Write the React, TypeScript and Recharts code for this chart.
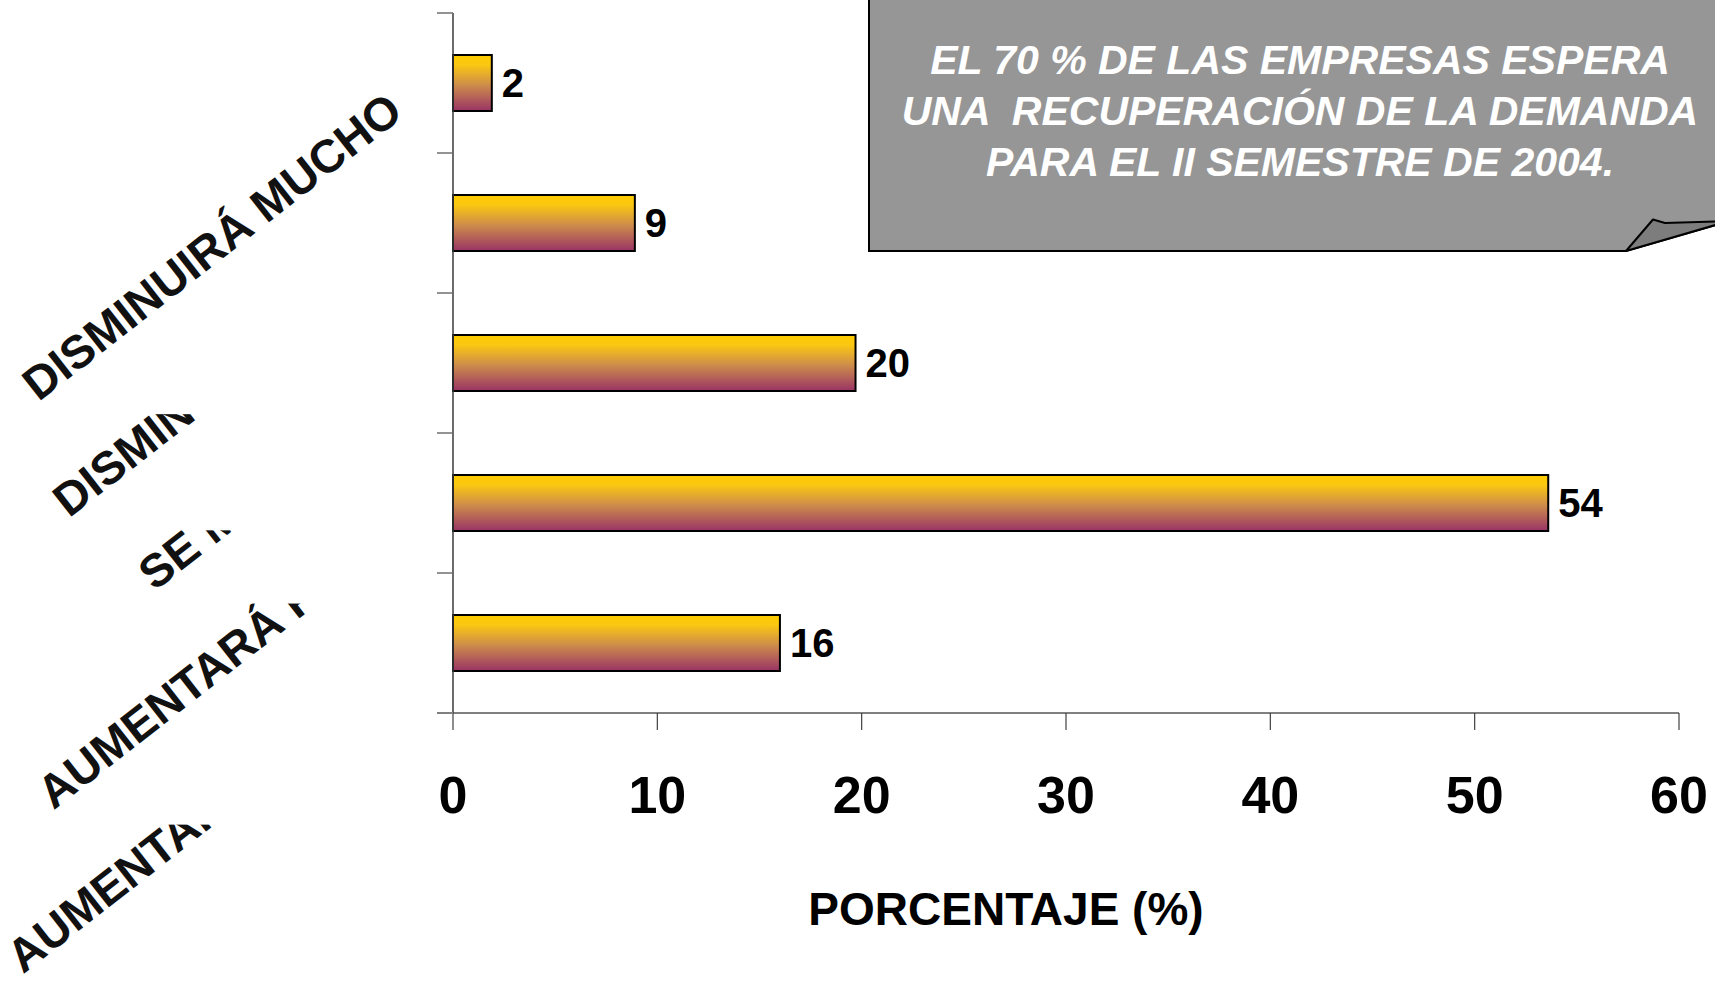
import React from 'react';
import { BarChart, Bar, XAxis, YAxis, LabelList, Label, Customized } from 'recharts';

// ---- data ----
const categories = ['AUMENTARÁ MUCHO', 'AUMENTARÁ POCO', 'SE MANTIENE', 'DISMINUIRÁ POCO', 'DISMINUIRÁ MUCHO'];
const values = [16.0, 53.6, 19.7, 8.9, 1.9];
const xTicks = [0, 10, 20, 30, 40, 50, 60];
const calloutLines = ['EL 70 % DE LAS EMPRESAS ESPERA', 'UNA  RECUPERACIÓN DE LA DEMANDA', 'PARA EL II SEMESTRE DE 2004.'];
const axisTitle = 'PORCENTAJE (%)';

const data = categories.map((name, i) => ({ name, value: values[i] }));

// ---- layout ----
const W = 1715;
const H = 984;
const MARGIN = { top: 13, right: 36, left: 0, bottom: 0 };
const Y_AXIS_W = 453;
const X_AXIS_H = 271;
const PLOT_H = H - MARGIN.top - MARGIN.bottom - X_AXIS_H;
const BAND = PLOT_H / categories.length;
const FONT = '"Liberation Sans", Arial, Helvetica, sans-serif';

// Arial Bold advance widths (per 1000 em)
const AW: Record<string, number> = {
  A: 722, B: 722, C: 722, D: 722, E: 667, F: 611, G: 778, H: 722, I: 278, J: 556, K: 722, L: 611,
  M: 833, N: 722, O: 778, P: 667, Q: 778, R: 722, S: 667, T: 611, U: 722, V: 667, W: 944, X: 667,
  Y: 667, Z: 611, ' ': 278, 'Á': 722, 'É': 667, 'Í': 278, 'Ó': 778, 'Ú': 722,
};
const textWidth = (s: string, fs: number) =>
  s.split('').reduce((a, ch) => a + (AW[ch] ?? 722), 0) * fs / 1000;

const YTick = (props: any) => {
  const { x, y, payload, index } = props;
  const fs = 46.5;
  const ang = 38;
  const ax = x - 48;
  const ay = y + 33;
  const L = textWidth(String(payload.value), fs);
  const a = (ang * Math.PI) / 180;
  const c = Math.cos(a);
  const s = Math.sin(a);
  const p = 3;
  const asc = 0.95 * fs;
  const desc = 0.21 * fs;
  const pts = [
    [-L - p, -asc - p],
    [p, -asc - p],
    [p, desc + p],
    [-L - p, desc + p],
  ].map(([lx, ly]) => [ax + lx * c + ly * s, ay - lx * s + ly * c]);
  const xs = pts.map((q) => q[0]);
  const ys = pts.map((q) => q[1]);
  const minX = Math.min(...xs);
  const maxX = Math.max(...xs);
  const minY = Math.min(...ys);
  const maxY = Math.max(...ys);
  return (
    <g>
      <line x1={x - 16} y1={y - BAND / 2} x2={x} y2={y - BAND / 2} stroke="#6f6f6f" strokeWidth={1.5} />
      {index === 0 && (
        <line x1={x - 16} y1={y + BAND / 2} x2={x} y2={y + BAND / 2} stroke="#808080" strokeWidth={2} />
      )}
      <rect x={minX} y={minY} width={maxX - minX} height={maxY - minY} fill="#ffffff" />
      <text
        x={ax}
        y={ay}
        textAnchor="end"
        transform={`rotate(${-ang} ${ax} ${ay})`}
        fontFamily={FONT}
        fontWeight="bold"
        fontSize={fs}
        fill="#111"
      >
        {payload.value}
      </text>
    </g>
  );
};

const XTick = (props: any) => {
  const { x, y, payload } = props;
  return (
    <text x={x} y={y} dy={83} textAnchor="middle" fontFamily={FONT} fontWeight="bold" fontSize={52} fill="#000">
      {payload.value}
    </text>
  );
};

const TitleContent = (props: any) => {
  const vb = props.viewBox || { x: Y_AXIS_W, y: H - X_AXIS_H, width: W - Y_AXIS_W - MARGIN.right, height: X_AXIS_H };
  return (
    <text
      x={vb.x + vb.width / 2 - 60}
      y={vb.y + 212}
      textAnchor="middle"
      fontFamily={FONT}
      fontWeight="bold"
      fontSize={46}
      fill="#000"
    >
      {axisTitle}
    </text>
  );
};

const Callout = () => (
  <g>
    <path d="M869,-4 L1719,-4 L1719,224 L1626,251 L869,251 Z" fill="#969696" stroke="#000" strokeWidth={2} />
    <path
      d="M1626,251 L1653,219.5 L1665,223 L1719,221.5 L1719,224 Z"
      fill="#7d7d7d"
      stroke="#000"
      strokeWidth={2}
      strokeLinejoin="round"
    />
    {calloutLines.map((t, i) => (
      <text
        key={i}
        x={1300}
        y={74 + 51 * i}
        textAnchor="middle"
        fontFamily={FONT}
        fontWeight="bold"
        fontStyle="italic"
        fontSize={41}
        fill="#ffffff"
        style={{ whiteSpace: 'pre' }}
      >
        {t}
      </text>
    ))}
  </g>
);

export default function App() {
  return (
    <div style={{ position: 'absolute', left: 0, top: 0, width: W, height: H, background: '#fff' }}>
      <BarChart
        width={W}
        height={H}
        data={data}
        layout="vertical"
        margin={MARGIN}
        barCategoryGap="30%"
      >
        <defs>
          <linearGradient id="barGrad" x1="0" y1="0" x2="0" y2="1">
            <stop offset="0%" stopColor="#FFCC00" />
            <stop offset="18%" stopColor="#FAC712" />
            <stop offset="55%" stopColor="#CC8A4C" />
            <stop offset="100%" stopColor="#993366" />
          </linearGradient>
        </defs>
        <XAxis
          type="number"
          domain={[0, 60]}
          ticks={xTicks}
          interval={0}
          height={X_AXIS_H}
          axisLine={{ stroke: '#808080', strokeWidth: 2 }}
          tickLine={{ stroke: '#404040', strokeWidth: 1.2 }}
          tickSize={17}
          tickMargin={0}
          tick={<XTick />}
        >
          <Label content={<TitleContent />} />
        </XAxis>
        <YAxis
          type="category"
          dataKey="name"
          reversed
          width={Y_AXIS_W}
          interval={0}
          axisLine={{ stroke: '#3a3a3a', strokeWidth: 1.5 }}
          tickLine={false}
          tickSize={0}
          tickMargin={0}
          tick={<YTick />}
        />
        <Bar dataKey="value" fill="url(#barGrad)" stroke="#000" strokeWidth={2} isAnimationActive={false}>
          <LabelList
            dataKey="value"
            position="right"
            offset={10}
            formatter={(v: any) => Math.round(Number(v))}
            fontFamily={FONT}
            fontWeight="bold"
            fontSize={40}
            fill="#000"
          />
        </Bar>
        <Customized component={Callout} />
      </BarChart>
    </div>
  );
}
